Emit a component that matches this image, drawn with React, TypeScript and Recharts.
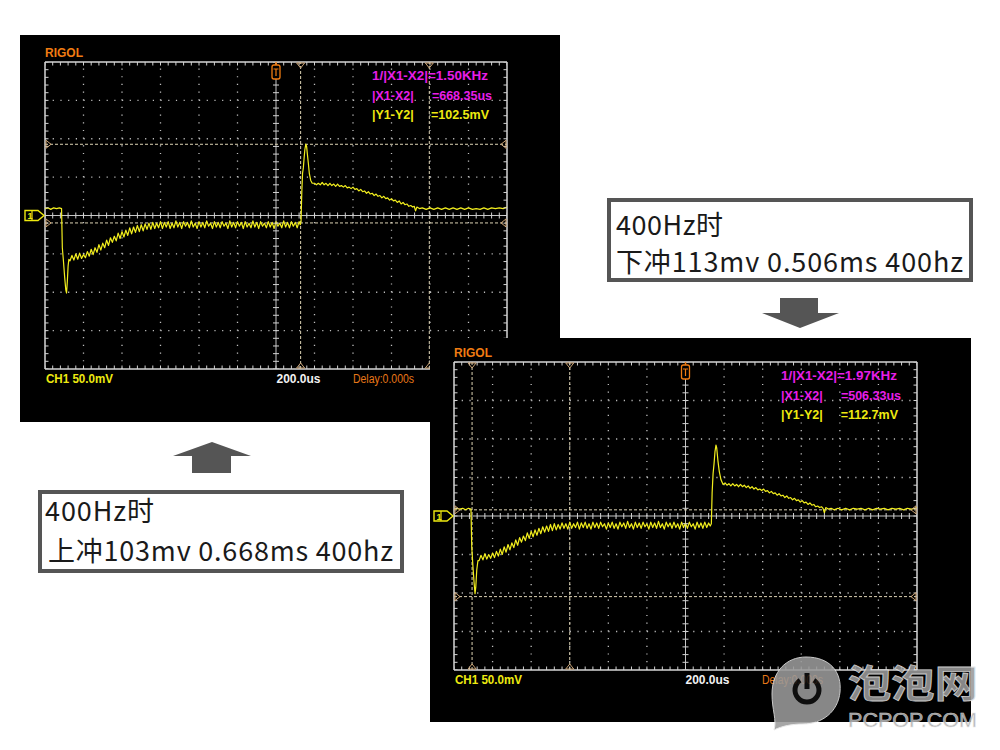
import React from 'react';
import {
  ComposedChart,
  Line,
  Scatter,
  XAxis,
  YAxis,
  ReferenceLine,
  ReferenceDot,
} from 'recharts';

// time in us (200us/div, trigger at centre), level in mV (50mV/div)
const timeDivs = [-1200, -1000, -800, -600, -400, -200, 0, 200, 400, 600, 800, 1000, 1200];
const levelDivs = [-200, -150, -100, -50, 0, 50, 100, 150, 200];

// 400Hz, overshoot capture (top screen)
const upTrace: [number, number][] = [
  [-1200, 9], [-1185, 10], [-1170, 8], [-1155, 10], [-1140, 9], [-1125, 10], [-1114, 9],
  [-1110, -42], [-1104, -60], [-1098, -80], [-1092, -97], [-1088, -101], [-1084, -86], [-1080, -66], [-1076, -57],
  [-1070, -59], [-1060, -52], [-1050, -58], [-1040, -50], [-1030, -57], [-1020, -49], [-1010, -56], [-1000, -51],
  [-990, -55], [-980, -47], [-970, -53], [-960, -44], [-950, -51], [-940, -42], [-930, -48], [-920, -38],
  [-910, -45], [-900, -36], [-890, -42], [-880, -32], [-870, -39], [-860, -29], [-850, -35], [-840, -27],
  [-830, -33], [-820, -23], [-810, -30], [-800, -21], [-790, -28], [-780, -19], [-770, -26], [-760, -16],
  [-750, -24], [-740, -15], [-730, -22], [-720, -13], [-710, -21], [-700, -12], [-690, -20], [-680, -11],
  [-670, -18], [-660, -10], [-650, -18], [-640, -9], [-630, -17], [-620, -10], [-610, -16], [-600, -8],
  [-590, -17], [-580, -9], [-570, -15], [-560, -8], [-550, -17], [-540, -10], [-530, -16], [-520, -7],
  [-510, -15], [-500, -9], [-490, -17], [-480, -8], [-470, -14], [-460, -9], [-450, -16], [-440, -7],
  [-430, -15], [-420, -10], [-410, -17], [-400, -8], [-390, -15], [-380, -9], [-370, -16], [-360, -7],
  [-350, -14], [-340, -10], [-330, -17], [-320, -8], [-310, -15], [-300, -9], [-290, -16], [-280, -8],
  [-270, -14], [-260, -10], [-250, -17], [-240, -7], [-230, -15], [-220, -9], [-210, -16], [-200, -8],
  [-190, -14], [-180, -9], [-170, -17], [-160, -8], [-150, -15], [-140, -10], [-130, -16], [-120, -7],
  [-110, -15], [-100, -9], [-90, -17], [-80, -8], [-70, -14], [-60, -10], [-50, -16], [-40, -8],
  [-30, -15], [-20, -9], [-10, -17], [0, -8], [10, -14], [20, -10], [30, -16], [40, -7],
  [50, -15], [60, -9], [70, -16], [80, -8], [90, -14], [100, -9], [110, -16], [120, -8], [126, -12],
  [130, -8], [134, 30], [138, 55], [142, 62], [146, 75], [150, 86], [155, 93], [159, 90],
  [163, 80], [168, 68], [173, 55], [180, 46], [188, 42],
  [200, 42], [210, 40], [220, 42], [230, 40], [240, 43], [250, 40], [260, 42], [270, 39],
  [280, 42], [290, 39], [300, 41], [310, 38], [320, 41], [330, 38], [340, 39], [350, 37],
  [360, 39], [370, 36], [380, 37], [390, 35], [400, 37], [410, 34], [420, 35], [430, 32],
  [440, 34], [450, 31], [460, 32], [470, 29], [480, 31], [490, 28], [500, 29], [510, 26],
  [520, 28], [530, 25], [540, 26], [550, 23], [560, 25], [570, 22], [580, 23], [590, 20],
  [600, 22], [610, 19], [620, 20], [630, 17], [640, 19], [650, 15], [660, 17], [670, 14],
  [680, 15], [690, 12], [700, 13], [710, 11], [718, 12], [725, 6], [732, 11], [745, 9],
  [760, 10], [780, 8], [800, 10], [820, 8], [840, 10], [860, 8], [880, 10], [900, 8],
  [920, 10], [940, 8], [960, 10], [980, 8], [1000, 10], [1020, 8], [1040, 9], [1060, 8],
  [1080, 10], [1100, 8], [1120, 10], [1140, 9], [1160, 10], [1180, 9], [1200, 11],
];

// 400Hz, undershoot capture (bottom screen)
const downTrace: [number, number][] = [
  [-1200, 9], [-1185, 10], [-1170, 9], [-1155, 10], [-1140, 8], [-1125, 10], [-1112, 9],
  [-1108, -40], [-1102, -65], [-1096, -86], [-1091, -101], [-1087, -92], [-1082, -70], [-1076, -58],
  [-1070, -58], [-1060, -51], [-1050, -57], [-1040, -49], [-1030, -56], [-1020, -50], [-1010, -55], [-1000, -48],
  [-990, -54], [-980, -46], [-970, -52], [-960, -43], [-950, -50], [-940, -40], [-930, -47], [-920, -37],
  [-910, -44], [-900, -35], [-890, -41], [-880, -31], [-870, -38], [-860, -28], [-850, -34], [-840, -26],
  [-830, -32], [-820, -22], [-810, -29], [-800, -20], [-790, -27], [-780, -18], [-770, -25], [-760, -16],
  [-750, -23], [-740, -14], [-730, -21], [-720, -13], [-710, -20], [-700, -11], [-690, -19], [-680, -10],
  [-670, -18], [-660, -11], [-650, -17], [-640, -9], [-630, -16], [-620, -10], [-610, -17], [-600, -8],
  [-590, -16], [-580, -10], [-570, -15], [-560, -8], [-550, -17], [-540, -9], [-530, -15], [-520, -8],
  [-510, -16], [-500, -10], [-490, -17], [-480, -8], [-470, -15], [-460, -9], [-450, -16], [-440, -8],
  [-430, -14], [-420, -10], [-410, -17], [-400, -9], [-390, -15], [-380, -8], [-370, -16], [-360, -10],
  [-350, -17], [-340, -8], [-330, -14], [-320, -9], [-310, -16], [-300, -7], [-290, -15], [-280, -10],
  [-270, -17], [-260, -8], [-250, -15], [-240, -9], [-230, -16], [-220, -8], [-210, -14], [-200, -10],
  [-190, -17], [-180, -8], [-170, -15], [-160, -9], [-150, -16], [-140, -7], [-130, -15], [-120, -10],
  [-110, -17], [-100, -8], [-90, -14], [-80, -9], [-70, -16], [-60, -8], [-50, -15], [-40, -10],
  [-30, -17], [-20, -8], [-10, -15], [0, -9], [10, -16], [20, -8], [30, -14], [40, -10],
  [50, -17], [60, -8], [70, -15], [80, -9], [90, -16], [100, -8], [110, -15], [120, -9], [128, -13],
  [134, -10], [138, 30], [143, 55], [148, 68], [153, 84], [158, 92], [162, 88], [168, 72],
  [175, 58], [184, 47], [195, 41],
  [205, 43], [215, 40], [225, 42], [235, 39], [245, 42], [255, 39], [265, 41], [275, 38],
  [285, 41], [295, 38], [305, 40], [315, 37], [325, 39], [335, 36], [345, 38], [355, 35],
  [365, 37], [375, 34], [385, 35], [395, 33], [405, 35], [415, 32], [425, 33], [435, 30],
  [445, 32], [455, 29], [465, 30], [475, 27], [485, 29], [495, 26], [505, 27], [515, 24],
  [525, 26], [535, 23], [545, 24], [555, 21], [565, 23], [575, 20], [585, 21], [595, 18],
  [605, 20], [615, 17], [625, 18], [635, 15], [645, 17], [655, 14], [665, 15], [675, 12],
  [685, 13], [695, 11], [705, 12], [713, 10], [720, 4], [727, 11], [740, 9], [755, 10],
  [770, 8], [790, 10], [810, 8], [830, 10], [850, 8], [870, 10], [890, 9], [910, 10],
  [930, 8], [950, 10], [970, 8], [990, 10], [1010, 9], [1030, 10], [1050, 8], [1070, 10],
  [1090, 9], [1110, 10], [1130, 8], [1150, 10], [1170, 9], [1190, 10], [1200, 11],
];

const upCursorsX = [128, 796.35];
const upCursorsY = [92.8, -9.7];
const downCursorsX = [-1106.33, -600];
const downCursorsY = [8.0, -104.7];

const upReadout = ['1/|X1-X2|=1.50KHz', '=668.35us', '=102.5mV'];
const downReadout = ['1/|X1-X2|=1.97KHz', '=506.33us', '=112.7mV'];

const PAD = 24;
const SCOPE_FONT = '"Liberation Sans", Arial, sans-serif';
const CJK_FONT = '"Noto Sans CJK SC", "Noto Sans", sans-serif';

// split each division into fifths for the graticule ticks
const fifths = (majors: number[]) =>
  majors
    .slice(0, -1)
    .flatMap((m, i) => [0, 1, 2, 3, 4].map((k) => m + ((majors[i + 1] - m) * k) / 5))
    .concat(majors[majors.length - 1]);

const timeMinor = fifths(timeDivs);
const levelMinor = fifths(levelDivs);

const graticule = [
  ...timeMinor.map((t) => ({ t, v: 200, o: 'top' })),
  ...timeMinor.map((t) => ({ t, v: -200, o: 'bottom' })),
  ...timeMinor.map((t) => ({ t, v: 0, o: 'hc' })),
  ...levelMinor.map((v) => ({ t: -1200, v, o: 'left' })),
  ...levelMinor.map((v) => ({ t: 1200, v, o: 'right' })),
  ...levelMinor.map((v) => ({ t: 0, v, o: 'vc' })),
];

const tickShape = (p: any) => {
  const { cx, cy } = p;
  const o = (p.payload && p.payload.o) || p.o;
  const L = 3.5;
  let d = '';
  if (o === 'top') d = `M${cx},${cy} L${cx},${cy + L}`;
  else if (o === 'bottom') d = `M${cx},${cy} L${cx},${cy - L}`;
  else if (o === 'left') d = `M${cx},${cy} L${cx + L},${cy}`;
  else if (o === 'right') d = `M${cx},${cy} L${cx - L},${cy}`;
  else if (o === 'hc') d = `M${cx},${cy - 3} L${cx},${cy + 3}`;
  else d = `M${cx - 3},${cy} L${cx + 3},${cy}`;
  return <path d={d} stroke="#d2d2d2" strokeWidth={1} />;
};

const tri = (dir: string) => (p: any) => {
  const { cx, cy } = p;
  let pts = '';
  if (dir === 'down') pts = `${cx - 4},${cy + 1} ${cx + 4},${cy + 1} ${cx},${cy + 6}`;
  else if (dir === 'up') pts = `${cx - 4},${cy - 1} ${cx + 4},${cy - 1} ${cx},${cy - 6}`;
  else if (dir === 'right') pts = `${cx + 1},${cy - 4} ${cx + 1},${cy + 4} ${cx + 6},${cy}`;
  else pts = `${cx - 1},${cy - 4} ${cx - 1},${cy + 4} ${cx - 6},${cy}`;
  return <polygon points={pts} fill="none" stroke="#c9a274" strokeWidth={1} />;
};

type ScopeProps = {
  box: { x: number; y: number; w: number; h: number };
  grid: { x: number; y: number; w: number; h: number };
  trace: [number, number][];
  cursorX: number[];
  cursorY: number[];
  readout: string[];
};

function Scope({ box, grid, trace, cursorX, cursorY, readout }: ScopeProps) {
  const data = trace.map(([t, v]) => ({ t, v }));
  const gx = grid.x;
  const gy = grid.y;
  const midX = gx + grid.w / 2;
  const midY = gy + grid.h / 2;
  const dotV = `1.2 ${grid.h / 40 - 1.2}`;
  const dotH = `1.2 ${grid.w / 60 - 1.2}`;
  const bold = { fontFamily: SCOPE_FONT, fontWeight: 700, fontSize: 12.5 };

  return (
    <div
      style={{
        position: 'absolute',
        left: box.x,
        top: box.y,
        width: box.w,
        height: box.h,
        background: '#000',
      }}
    >
      <div style={{ position: 'absolute', left: gx - PAD, top: gy - PAD }}>
        <ComposedChart
          width={grid.w + 2 * PAD}
          height={grid.h + 2 * PAD}
          margin={{ top: PAD, right: PAD, bottom: PAD, left: PAD }}
        >
          <XAxis type="number" dataKey="t" domain={[-1200, 1200]} hide allowDataOverflow />
          <YAxis type="number" dataKey="v" domain={[-200, 200]} hide allowDataOverflow />

          {timeDivs.slice(1, -1).filter((t) => t !== 0).map((t) => (
            <ReferenceLine key={'gx' + t} x={t} stroke="#bdbdbd" strokeWidth={1.3} strokeDasharray={dotV} />
          ))}
          {levelDivs.slice(1, -1).filter((v) => v !== 0).map((v) => (
            <ReferenceLine key={'gy' + v} y={v} stroke="#bdbdbd" strokeWidth={1.3} strokeDasharray={dotH} />
          ))}
          <ReferenceLine x={0} stroke="#c4c4c4" strokeWidth={1} />
          <ReferenceLine y={0} stroke="#c4c4c4" strokeWidth={1} />

          <ReferenceLine x={-1200} stroke="#d6d6d6" strokeWidth={1.5} ifOverflow="visible" />
          <ReferenceLine x={1200} stroke="#d6d6d6" strokeWidth={1.5} ifOverflow="visible" />
          <ReferenceLine y={-200} stroke="#d6d6d6" strokeWidth={1.5} ifOverflow="visible" />
          <ReferenceLine y={200} stroke="#d6d6d6" strokeWidth={1.5} ifOverflow="visible" />

          <Scatter data={graticule} shape={tickShape} isAnimationActive={false} />

          {cursorX.map((c) => (
            <ReferenceLine key={'cx' + c} x={c} stroke="#ddd3b4" strokeWidth={1} strokeDasharray="3 2" />
          ))}
          {cursorY.map((c) => (
            <ReferenceLine key={'cy' + c} y={c} stroke="#ddd3b4" strokeWidth={1} strokeDasharray="3 2" />
          ))}
          {cursorX.map((c) => (
            <ReferenceDot key={'tt' + c} x={c} y={200} r={4} shape={tri('down')} ifOverflow="visible" />
          ))}
          {cursorX.map((c) => (
            <ReferenceDot key={'tb' + c} x={c} y={-200} r={4} shape={tri('up')} ifOverflow="visible" />
          ))}
          {cursorY.map((c) => (
            <ReferenceDot key={'tl' + c} x={-1200} y={c} r={4} shape={tri('right')} ifOverflow="visible" />
          ))}
          {cursorY.map((c) => (
            <ReferenceDot key={'tr' + c} x={1200} y={c} r={4} shape={tri('left')} ifOverflow="visible" />
          ))}

          <Line
            data={data}
            dataKey="v"
            type="linear"
            stroke="#f2ee1e"
            strokeWidth={1.2}
            strokeLinejoin="round"
            dot={false}
            activeDot={false}
            isAnimationActive={false}
          />
        </ComposedChart>
      </div>

      <svg
        width={box.w}
        height={box.h}
        style={{ position: 'absolute', left: 0, top: 0, pointerEvents: 'none' }}
      >
        <text x={gx} y={gy - 5} fill="#f07c12" {...bold} fontSize={12}>
          RIGOL
        </text>

        <text x={gx + 327} y={gy + 18} fill="#e81ee8" {...bold} textLength={116} lengthAdjust="spacingAndGlyphs">
          {readout[0]}
        </text>
        <text x={gx + 327} y={gy + 38} fill="#e81ee8" {...bold}>
          |X1-X2|
        </text>
        <text x={gx + 447} y={gy + 38} fill="#e81ee8" {...bold} textAnchor="end">
          {readout[1]}
        </text>
        <text x={gx + 327} y={gy + 57} fill="#eeea10" {...bold}>
          |Y1-Y2|
        </text>
        <text x={gx + 444} y={gy + 57} fill="#eeea10" {...bold} textAnchor="end">
          {readout[2]}
        </text>

        <text x={gx + 1} y={gy + grid.h + 14} fill="#eeea10" {...bold} textLength={67} lengthAdjust="spacingAndGlyphs">
          CH1 50.0mV
        </text>
        <text x={gx + 231.5} y={gy + grid.h + 14} fill="#f2f2f2" {...bold} textLength={44} lengthAdjust="spacingAndGlyphs">
          200.0us
        </text>
        <text
          x={gx + 308}
          y={gy + grid.h + 14}
          fill="#e87818"
          fontFamily={SCOPE_FONT}
          fontSize={12}
          textLength={61}
          lengthAdjust="spacingAndGlyphs"
        >
          Delay:0.000s
        </text>

        {/* trigger position marker */}
        <path d={`M${midX},${gy} L${midX},${gy + 3}`} stroke="#f07c12" strokeWidth={1.5} />
        <rect x={midX - 4} y={gy + 3} width={8} height={14} rx={2} fill="#000" stroke="#f07c12" strokeWidth={1.3} />
        <path
          d={`M${midX - 2.5},${gy + 7} L${midX + 2.5},${gy + 7} M${midX},${gy + 7} L${midX},${gy + 14}`}
          stroke="#f07c12"
          strokeWidth={1.2}
        />

        {/* CH1 ground marker */}
        <polygon
          points={`${gx - 20},${midY - 5} ${gx - 7},${midY - 5} ${gx - 1},${midY} ${gx - 7},${midY + 5} ${gx - 20},${midY + 5}`}
          fill="#000"
          stroke="#eeea10"
          strokeWidth={1.4}
        />
        <path d={`M${gx - 13},${midY - 5} L${gx - 13},${midY + 5}`} stroke="#eeea10" strokeWidth={1.2} />
        <text x={gx - 17.5} y={midY + 3.5} fill="#eeea10" fontFamily={SCOPE_FONT} fontWeight={700} fontSize={9}>
          1
        </text>
      </svg>
    </div>
  );
}

export default function App() {
  return (
    <div
      style={{
        position: 'absolute',
        left: 0,
        top: 0,
        width: 1000,
        height: 750,
        background: '#fff',
        overflow: 'hidden',
      }}
    >
      <Scope
        box={{ x: 20, y: 35, w: 540, h: 387 }}
        grid={{ x: 25, y: 27, w: 462, h: 307 }}
        trace={upTrace}
        cursorX={upCursorsX}
        cursorY={upCursorsY}
        readout={upReadout}
      />
      <Scope
        box={{ x: 430, y: 338, w: 541, h: 384 }}
        grid={{ x: 24, y: 24, w: 463, h: 308 }}
        trace={downTrace}
        cursorX={downCursorsX}
        cursorY={downCursorsY}
        readout={downReadout}
      />

      <svg
        width={1000}
        height={750}
        style={{ position: 'absolute', left: 0, top: 0, pointerEvents: 'none' }}
      >
        {/* caption boxes */}
        <rect x={609} y={200} width={362} height={80} fill="#fff" stroke="#555" strokeWidth={4} />
        <text x={616} y={235} fontFamily={CJK_FONT} fontSize={27} fill="#1a1a1a" textLength={107}>
          400Hz时
        </text>
        <text x={616} y={272} fontFamily={CJK_FONT} fontSize={27} fill="#1a1a1a" textLength={347}>
          下冲113mv 0.506ms 400hz
        </text>

        <rect x={40} y={492} width={362} height={79} fill="#fff" stroke="#555" strokeWidth={4} />
        <text x={45} y={521} fontFamily={CJK_FONT} fontSize={27} fill="#1a1a1a" textLength={109}>
          400Hz时
        </text>
        <text x={48} y={561} fontFamily={CJK_FONT} fontSize={27} fill="#1a1a1a" textLength={345}>
          上冲103mv 0.668ms 400hz
        </text>

        {/* arrows */}
        <polygon points="780,298 818,298 818,313 839,313 800,328 762,313 780,313" fill="#555" />
        <polygon points="212,442 251,456 231,456 231,473 192,473 192,456 173,456" fill="#555" />

        {/* watermark */}
        <g opacity={0.88}>
          <path
            d="M806,657 C830,657 842,672 840,692 C838,712 822,724 803,724 C792,724 782,726 774,730 C777,720 772,710 772,694 C772,672 786,657 806,657 Z"
            fill="#9a9a9a"
            stroke="#e6e6e6"
            strokeWidth={1}
          />
          <path d="M813.9,680.2 A12,12 0 1 1 800.1,680.2" fill="none" stroke="#111" strokeWidth={5} />
          <path d="M807,673 L807,689" stroke="#111" strokeWidth={5} />
          <text
            x={848}
            y={697}
            fontFamily={CJK_FONT}
            fontWeight={700}
            fontSize={38}
            fill="#9a9a9a"
            stroke="#e6e6e6"
            strokeWidth={0.8}
            textLength={130}
            lengthAdjust="spacingAndGlyphs"
          >
            泡泡网
          </text>
          <text
            x={848}
            y={727}
            fontFamily={SCOPE_FONT}
            fontSize={20}
            fill="#a8a8a8"
            stroke="#e6e6e6"
            strokeWidth={0.5}
            textLength={129}
            lengthAdjust="spacingAndGlyphs"
          >
            PCPOP.COM
          </text>
        </g>
      </svg>
    </div>
  );
}
